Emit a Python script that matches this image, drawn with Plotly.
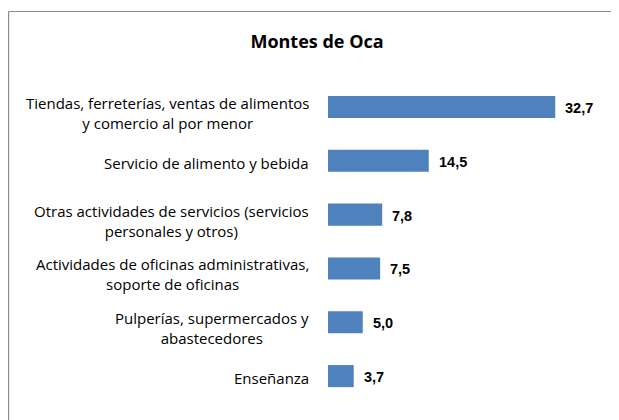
import plotly.graph_objects as go

categories = [
    "Tiendas, ferreterías, ventas de alimentos<br>y comercio al por menor",
    "Servicio de alimento y bebida",
    "Otras actividades de servicios (servicios<br>personales y otros)",
    "Actividades de oficinas administrativas,<br>soporte de oficinas",
    "Pulperías, supermercados y<br>abastecedores",
    "Enseñanza",
]
values = [32.7, 14.5, 7.8, 7.5, 5.0, 3.7]
title_text = "Montes de Oca"

# page body has an 8px margin, so the figure is drawn 8px smaller
W, H = 611, 412
ml, mr, mt, mb = 320, 13, 71, 17

fig = go.Figure(
    go.Bar(
        x=values,
        y=categories,
        orientation="h",
        marker=dict(color="#4F81BD", line=dict(width=0)),
        width=0.41,
        hoverinfo="skip",
    )
)

label_font = "Open Sans, Liberation Sans, sans-serif"
num_font = "Liberation Sans, Arial, sans-serif"
annotations = []
for cat, v in zip(categories, values):
    nlines = cat.count("<br>") + 1
    annotations.append(dict(
        x=0, xref="paper", y=cat, yref="y",
        text=cat, showarrow=False, xanchor="right", yanchor="middle",
        align="center", xshift=-17, yshift=-2 if nlines == 1 else -6,
        font=dict(family=label_font, size=15, color="#000000"),
    ))
    annotations.append(dict(
        x=v, xref="x", y=cat, yref="y",
        text="<b>" + f"{v:.1f}".replace(".", ",") + "</b>",
        showarrow=False, xanchor="left", yanchor="middle", xshift=8, yshift=-1,
        font=dict(family=num_font, size=14.5, color="#000000"),
    ))

pw = W - ml - mr
ph = H - mt - mb
fig.update_layout(
    width=W, height=H,
    margin=dict(l=ml, r=mr, t=mt, b=mb, pad=0),
    paper_bgcolor="white", plot_bgcolor="white",
    showlegend=False,
    title=dict(
        text="<b>" + title_text + "</b>",
        x=309 / W, xanchor="center", xref="container",
        y=1 - 34 / H, yanchor="middle", yref="container",
        font=dict(family=label_font, size=18, color="#000000"),
    ),
    xaxis=dict(range=[0, pw / 6.95], visible=False, showgrid=False, zeroline=False, fixedrange=True),
    yaxis=dict(autorange="reversed", showticklabels=False, showgrid=False, zeroline=False,
               showline=False, ticks="", fixedrange=True),
    annotations=annotations,
    shapes=[
        dict(type="line", xref="paper", yref="paper",
             x0=(0.6 - ml) / pw, x1=(W + 10 - ml) / pw,
             y0=(H - mb - 3.5) / ph, y1=(H - mb - 3.5) / ph,
             line=dict(color="#8C8C8C", width=1.2)),
        dict(type="line", xref="paper", yref="paper",
             x0=(0.6 - ml) / pw, x1=(0.6 - ml) / pw,
             y0=(H - mb - 3.5) / ph, y1=-(mb + 10) / ph,
             line=dict(color="#8C8C8C", width=1.2)),
    ],
)

fig.write_html("out.html")
